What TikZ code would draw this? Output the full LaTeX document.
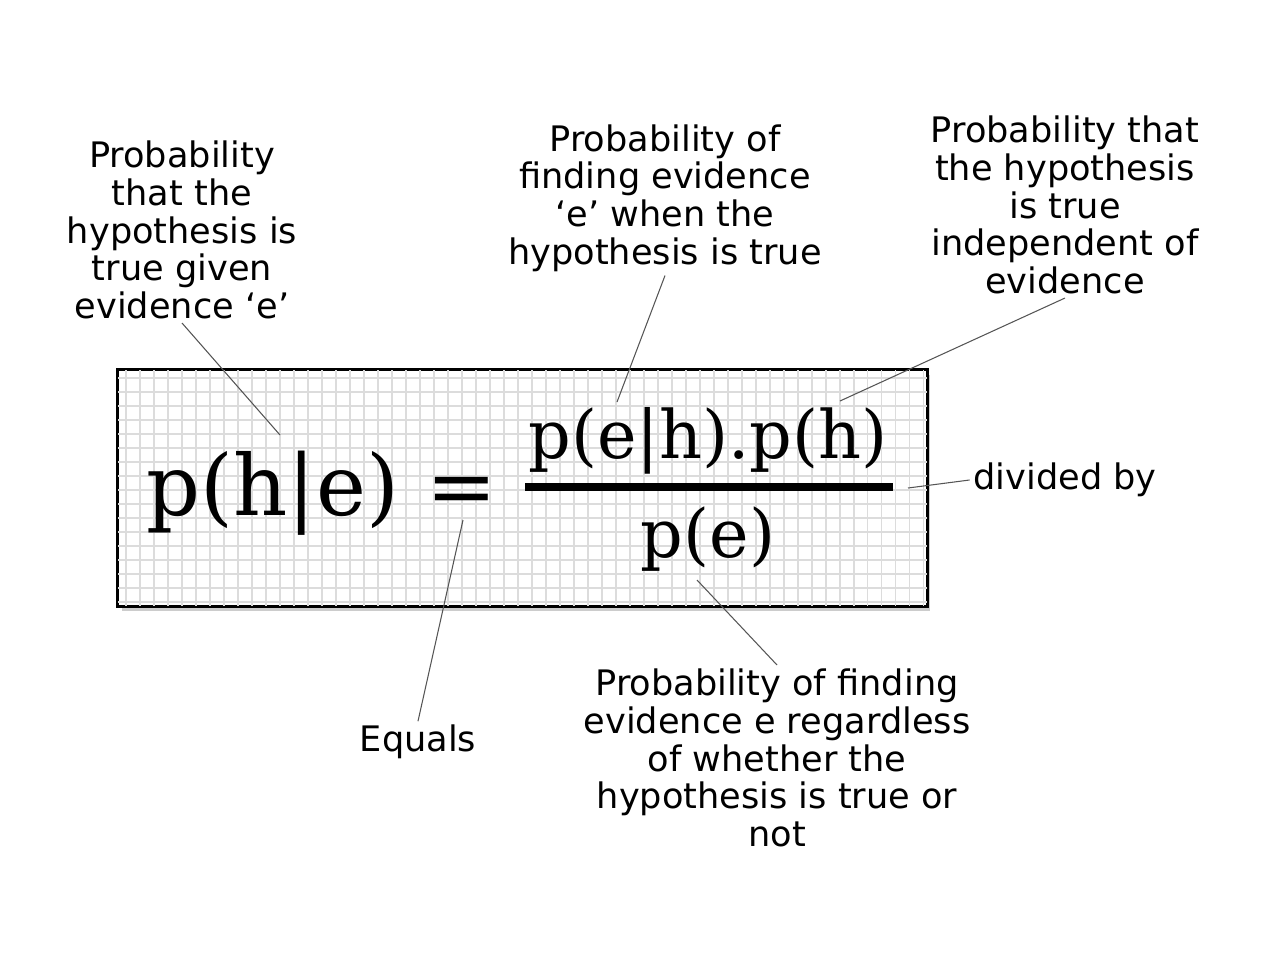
\documentclass[tikz,border=0pt]{standalone}
\usepackage{fontspec}
\newfontfamily\formulafont{DejaVu Serif}
\newfontfamily\notefont{DejaVu Sans}
\usepackage{tikz}
\usetikzlibrary{positioning,shadows}
\definecolor{gridgrey}{HTML}{DCDCDC}
\definecolor{leader}{HTML}{555555}

\begin{document}
\begin{tikzpicture}[x=0.02cm,y=-0.02cm,
    note/.style={align=center,inner sep=2pt,font=\notefont\fontsize{20}{21.5}\selectfont},
    lead/.style={draw=leader,line width=0.6pt},
    eqbox/.style={draw,line width=1pt,fill=white,minimum width=16.18cm,minimum height=4.72cm,
      drop shadow={shadow xshift=2pt,shadow yshift=-3pt,opacity=0.4}},
    big/.style={anchor=base,inner sep=0pt,font=\formulafont\fontsize{48}{48}\selectfont},
    mid/.style={anchor=base,inner sep=0pt,font=\formulafont\fontsize{38}{38}\selectfont}]
        \useasboundingbox (0,0) rectangle (1280,960);

        \node[eqbox] (box) at (522.5,488) {};
        \draw[gridgrey,line width=0.75pt,step=0.28cm] (box.south west) grid (box.north east);
        \draw[line width=1pt] (box.south west) rectangle (box.north east);

        \path
        (273,515) node[big](lhs) {p(h|e)}
        (462,515) node[big](equal) {=}
        (708,458) node[mid](numer) {p(e|h).p(h)}
        (708,557) node[mid](denom) {p(e)}
        ;

        \coordinate (barleft) at (525,487);
        \coordinate (barright) at (893,487);
        \draw[line width=4pt] (barleft) -- (barright);

        \path
        (182,230) node[note](givenote) {Probability\\that the\\hypothesis is\\true given\\evidence ‘e’}
        (665,198) node[note](likenote) {Probability of\\finding evidence\\‘e’ when the\\hypothesis is true}
        (1065,205) node[note](priornote) {Probability that\\the hypothesis\\is true\\independent of\\evidence}
        (1065,480) node[note](divnote) {divided by}
        (418,742) node[note](eqnote) {Equals}
        (777,758) node[note](evnote) {Probability of finding\\evidence e regardless\\of whether the\\hypothesis is true or\\not}
        ;

        \coordinate (givept) at (280,435);
        \coordinate (likept) at (617,402);
        \coordinate (priorpt) at (840,401);
        \coordinate (divpt) at (908,488);
        \coordinate (eqpt) at (463,520);
        \coordinate (evpt) at (697,580);

        \draw[lead] (givenote.south) -- (givept);
        \draw[lead] (likenote.south) -- (likept);
        \draw[lead] (priornote.south) -- (priorpt);
        \draw[lead] (divnote.west) -- (divpt);
        \draw[lead] (eqnote.north) -- (eqpt);
        \draw[lead] (evnote.north) -- (evpt);
      \end{tikzpicture}
\end{document}
